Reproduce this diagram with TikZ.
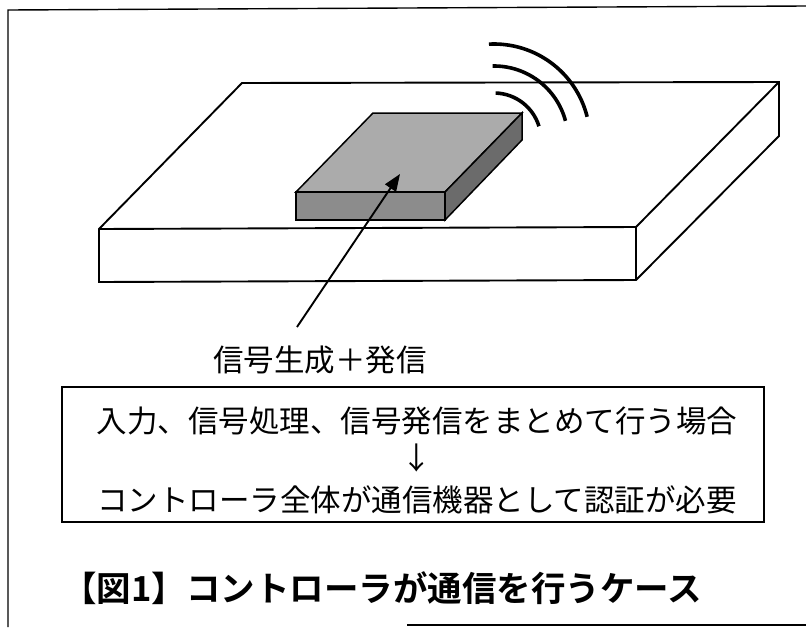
\documentclass[tikz,border=0pt]{standalone}
\usepackage{fontspec}
\setmainfont{Noto Sans CJK JP}[BoldFont={Noto Sans CJK JP Bold}]
\usetikzlibrary{arrows.meta}
\begin{document}
\begin{tikzpicture}[x=1pt,y=-1pt,
  frameline/.style={line width=1.4pt},
  plate/.style={line width=1.9pt, line join=miter},
  chipface/.style={line width=1.5pt, line join=miter},
  wave/.style={line width=3.6pt},
  pointer/.style={line width=1.9pt, -{Triangle[length=17pt,width=13pt]}},
  jtext/.style={inner sep=0pt, font=\fontsize{30.5}{31}\selectfont},
  titletext/.style={inner sep=0pt, font=\fontsize{34.5}{35}\selectfont\bfseries},
  notebox/.style={draw, line width=1.3pt, inner sep=0pt}
]
\useasboundingbox (0,0) rectangle (806,627);

% page frame
\coordinate (f1) at (8,627);
\coordinate (f2) at (8,10);
\coordinate (f3) at (806,6);
\coordinate (b1) at (407,625);
\coordinate (b2) at (806,625);
\draw[frameline] (f1) -- (f2) -- (f3);
\draw[frameline] (b1) -- (b2);

% board (white slab)
\coordinate (p1) at (99,229);
\coordinate (p2) at (636,227);
\coordinate (p3) at (636,280);
\coordinate (p4) at (99,282);
\coordinate (p5) at (242,83);
\coordinate (p6) at (779,82);
\coordinate (p7) at (779,136);
\draw[plate, fill=white] (p4) -- (p1) -- (p5) -- (p6) -- (p7) -- (p3) -- cycle;
\draw[plate] (p1) -- (p2) -- (p3);
\draw[plate] (p2) -- (p6);

% controller module (grey block)
\coordinate (c1) at (296,192);
\coordinate (c2) at (445,192);
\coordinate (c3) at (445,220);
\coordinate (c4) at (296,220);
\coordinate (c5) at (373,113);
\coordinate (c6) at (522,113);
\coordinate (c7) at (522,140);
\draw[chipface, fill=black!33] (c1) -- (c5) -- (c6) -- (c2) -- cycle;
\draw[chipface, fill=black!45] (c1) -- (c2) -- (c3) -- (c4) -- cycle;
\draw[chipface, fill=black!58] (c2) -- (c6) -- (c7) -- (c3) -- cycle;

% radio waves
\coordinate (wc) at (494,140);
\draw[wave] ([shift={(88:47pt)}]wc) arc[start angle=88, end angle=17, radius=47pt];
\draw[wave] ([shift={(91:74pt)}]wc) arc[start angle=91, end angle=15, radius=74pt];
\draw[wave] ([shift={(93:96pt)}]wc) arc[start angle=93, end angle=14, radius=96pt];

% pointer to the module
\coordinate (tail) at (297,327);
\coordinate (tip) at (400,174);
\draw[pointer] (tail) -- (tip);
\node[jtext] (lbl) at (320,360) {信号生成＋発信};

% explanation box
\node[notebox, minimum width=702pt, minimum height=135pt] (note) at (413,454.5) {};
\node[jtext] (l1) at (417,421) {入力、信号処理、信号発信をまとめて行う場合};
\node[jtext] (darr) at (417,458) {↓};
\node[jtext] (l2) at (417,500) {コントローラ全体が通信機器として認証が必要};

% caption
\node[titletext] (title) at (382,588) {【図1】コントローラが通信を行うケース};
\end{tikzpicture}
\end{document}
